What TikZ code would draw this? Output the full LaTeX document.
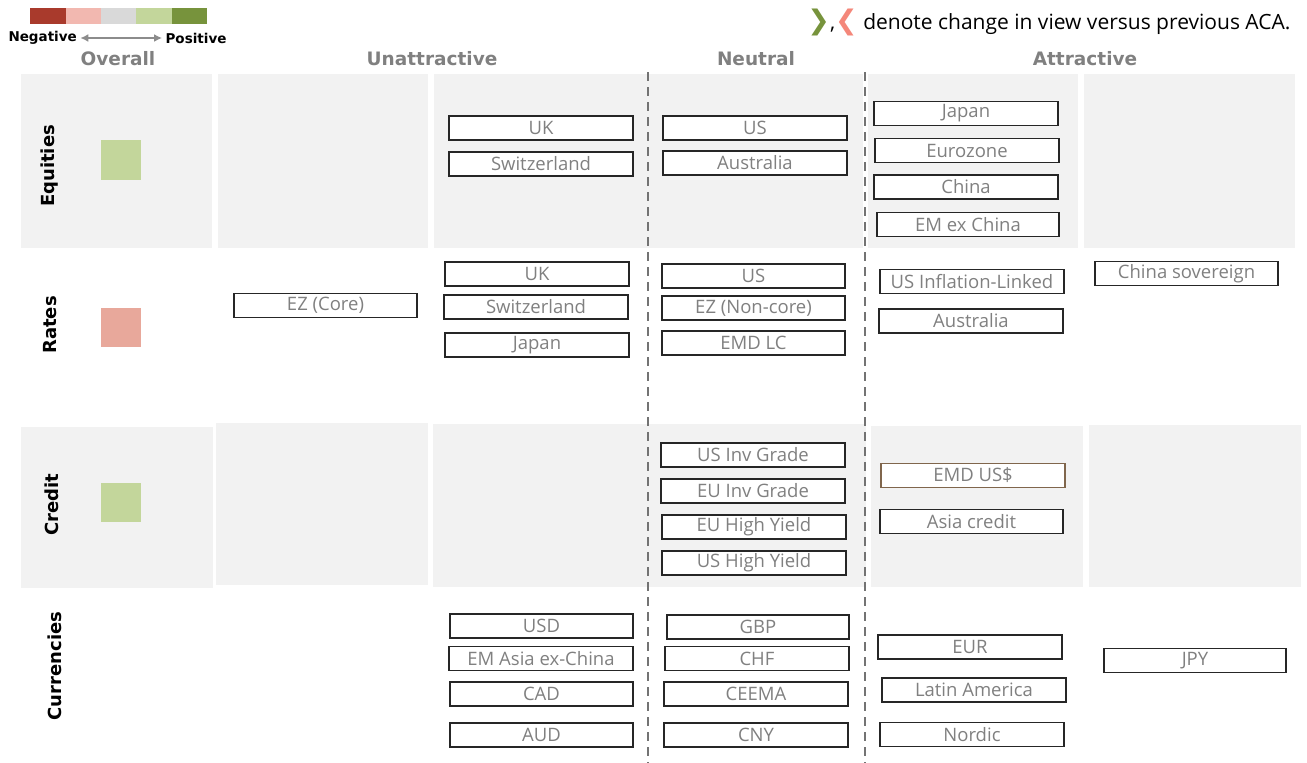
\documentclass[tikz,border=0pt]{standalone}
\usepackage{fontspec}
\setmainfont{Open Sans}
\newfontfamily\headfont{DejaVu Sans}
\usepackage{tikz}
\usetikzlibrary{arrows.meta}
\usetikzlibrary{positioning}

\definecolor{negdark}{HTML}{A93A2C}
\definecolor{neglight}{HTML}{F2B8B0}
\definecolor{neutralgray}{HTML}{D9D9D9}
\definecolor{poslight}{HTML}{C3D69B}
\definecolor{posdark}{HTML}{77933C}
\definecolor{ratepink}{HTML}{E8A89B}
\definecolor{chevpink}{HTML}{F4877A}
\definecolor{cellgray}{HTML}{F2F2F2}

\tikzset{
    viewbox/.style={draw=black!85, fill=white, line width=1.3pt, minimum width=184pt, minimum height=24pt, inner sep=0pt, text=black!50, font=\fontsize{18.5}{18.5}\selectfont},
    colhead/.style={text=black!50, font=\headfont\bfseries\fontsize{18.5}{18.5}\selectfont},
    rowhead/.style={rotate=90, font=\headfont\bfseries\fontsize{18}{18}\selectfont},
    divider/.style={black!55, line width=2pt, dash pattern=on 9pt off 6pt},
}

\begin{document}
\begin{tikzpicture}[x=1pt, y=-1pt]
        \useasboundingbox (0,0) rectangle (1307,763);

        % Shaded rows (Equities and Credit)
        \fill[cellgray] (21,74) rectangle (212,248);
        \fill[cellgray] (218,74) rectangle (428,248);
        \fill[cellgray] (434,74) rectangle (863,248);
        \fill[cellgray] (868,74) rectangle (1078,248);
        \fill[cellgray] (1084,74) rectangle (1295,248);
        \fill[cellgray] (21,427) rectangle (213,588);
        \fill[cellgray] (216,423) rectangle (428,585);
        \fill[cellgray] (433,424) rectangle (866,587);
        \fill[cellgray] (871,426) rectangle (1083,587);
        \fill[cellgray] (1089,425) rectangle (1301,587);

        % Dividers between the columns
        \draw[divider] (648,72) -- (648,763);
        \draw[divider] (865,72) -- (865,763);

        % Legend
        \fill[negdark] (30,8) rectangle (66,24);
        \fill[neglight] (66,8) rectangle (101,24);
        \fill[neutralgray] (101,8) rectangle (136,24);
        \fill[poslight] (136,8) rectangle (172,24);
        \fill[posdark] (172,8) rectangle (207,24);
        \node[anchor=west, font=\headfont\bfseries\fontsize{13.5}{13.5}\selectfont] (neg) at (5,38) {Negative};
        \node[anchor=east, font=\headfont\bfseries\fontsize{13.5}{13.5}\selectfont] (pos) at (230,38) {Positive};
        \draw[{Latex[length=8pt,width=8pt]}-{Latex[length=8pt,width=8pt]}, black!45, line width=2.2pt] (neg) -- (pos);
        \node[anchor=east, font=\fontsize{21}{21}\selectfont] (note) at (1294,22)
            {{\headfont\bfseries\fontsize{27}{27}\selectfont\color{posdark}❯},{\headfont\bfseries\fontsize{27}{27}\selectfont\color{chevpink}❮} denote change in view versus previous ACA.};

        % Column headings
        \node[colhead] (hoverall) at (118,59) {Overall};
        \node[colhead] (hunattr) at (432,59) {Unattractive};
        \node[colhead] (hneutral) at (756,59) {Neutral};
        \node[colhead] (hattr) at (1085,59) {Attractive};

        % Row headings and overall views
        \node[rowhead] (requities) at (50,166) {Equities};
        \node[rowhead] (rrates) at (50,325) {Rates};
        \node[rowhead] (rcredit) at (52,505) {Credit};
        \node[rowhead] (rcurrencies) at (55,666) {Currencies};
        \fill[poslight] (101,140) rectangle (141,180);
        \fill[ratepink] (101,308) rectangle (141,347);
        \fill[poslight] (101,483) rectangle (141,522);

        % Equities
        \node[viewbox] (eqUK) at (541,128) {UK};
        \node[viewbox] (eqCH) at (541,164) {Switzerland};
        \node[viewbox] (eqUS) at (755,128) {US};
        \node[viewbox] (eqAU) at (755,163) {Australia};
        \node[viewbox] (eqJP) at (966,113.5) {Japan};
        \node[viewbox] (eqEZ) at (967,150.5) {Eurozone};
        \node[viewbox] (eqCN) at (966,187) {China};
        \node[viewbox, minimum width=182pt] (eqEM) at (968,224.5) {EM ex China};

        % Rates
        \node[viewbox, minimum width=183pt] (rtEZcore) at (325.5,305.5) {EZ (Core)};
        \node[viewbox] (rtUK) at (537,274) {UK};
        \node[viewbox] (rtCH) at (536,307) {Switzerland};
        \node[viewbox] (rtJP) at (537,345) {Japan};
        \node[viewbox, minimum width=183pt] (rtUS) at (753.5,276) {US};
        \node[viewbox, minimum width=183pt] (rtEZnon) at (753.5,308) {EZ (Non-core)};
        \node[viewbox, minimum width=183pt] (rtEMD) at (753.5,343) {EMD LC};
        \node[viewbox] (rtUSIL) at (972,281.5) {US Inflation-Linked};
        \node[viewbox] (rtAU) at (971,321) {Australia};
        \node[viewbox, minimum width=183pt] (rtCN) at (1186.5,273.5) {China sovereign};

        % Credit
        \node[viewbox] (crUSIG) at (753,455) {US Inv Grade};
        \node[viewbox] (crEUIG) at (753,491) {EU Inv Grade};
        \node[viewbox] (crEUHY) at (754,527) {EU High Yield};
        \node[viewbox] (crUSHY) at (754,563) {US High Yield};
        \node[viewbox, draw=brown!50!black!80] (crEMD) at (973,475.5) {EMD US\$};
        \node[viewbox, minimum width=183pt] (crAsia) at (971.5,521.5) {Asia credit};

        % Currencies
        \node[viewbox, minimum width=183pt] (fxUSD) at (541.5,626) {USD};
        \node[viewbox] (fxEMAsia) at (541,658.5) {EM Asia ex-China};
        \node[viewbox, minimum width=183pt] (fxCAD) at (541.5,694) {CAD};
        \node[viewbox, minimum width=183pt] (fxAUD) at (541.5,735) {AUD};
        \node[viewbox, minimum width=182pt] (fxGBP) at (758,627) {GBP};
        \node[viewbox] (fxCHF) at (757,658.5) {CHF};
        \node[viewbox] (fxCEEMA) at (756,694) {CEEMA};
        \node[viewbox] (fxCNY) at (756,735) {CNY};
        \node[viewbox] (fxEUR) at (970,647) {EUR};
        \node[viewbox] (fxLatAm) at (974,690) {Latin America};
        \node[viewbox] (fxNordic) at (972,734.5) {Nordic};
        \node[viewbox, minimum width=182pt] (fxJPY) at (1195,660.5) {JPY};
    \end{tikzpicture}
\end{document}
